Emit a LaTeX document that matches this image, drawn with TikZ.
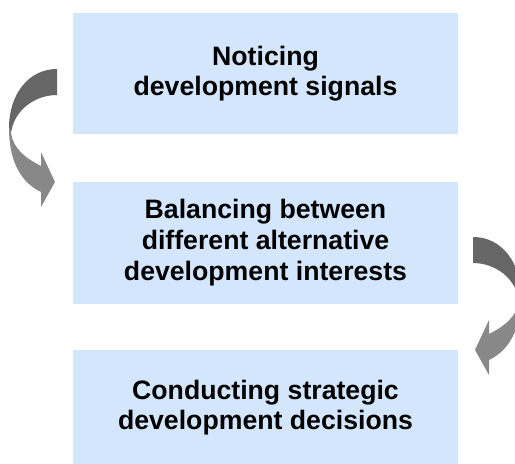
\documentclass[tikz,border=0pt]{standalone}
\usepackage{fontspec}
\setmainfont{Liberation Sans}
\usetikzlibrary{positioning}
\definecolor{boxblue}{RGB}{212,230,252}
\definecolor{arrowdark}{RGB}{102,102,102}
\definecolor{arrowlight}{RGB}{136,136,136}
\tikzset{bendarrow/.pic={
  \fill[arrowdark] (57,69) .. controls (28,69) and (9,95) .. (9,128) -- (11,133) .. controls (14,110) and (35,95) .. (57,95) -- cycle;
  \fill[arrowlight] (9,128) .. controls (9,160) and (20,182) .. (41,192) -- (41,207) -- (55,182) -- (41,152) -- (41,166) .. controls (25,158) and (13,148) .. (11,133) -- cycle;
}}
\begin{document}
\begin{tikzpicture}[x=0.75pt, y=-0.75pt, node distance=35.25pt, every node/.style={font=\bfseries\fontsize{20}{23}\selectfont}, box/.style={fill=boxblue, minimum width=288.75pt, minimum height=90.75pt, align=center, inner sep=0pt}]
\useasboundingbox (0,0) rectangle (515,464);
\clip (0,0) rectangle (515,464);
\node[box] (notice) at (265.5,73.5) {Noticing\\development signals};
\node[box, below=of notice, minimum height=91.5pt] (balance) {Balancing between\\different alternative\\development interests};
\node[box, below=34.5pt of balance, minimum height=86.25pt] (decide) {Conducting strategic\\development decisions};
\pic {bendarrow};
\pic[xscale=-1] at (530,168) {bendarrow};
\end{tikzpicture}
\end{document}
